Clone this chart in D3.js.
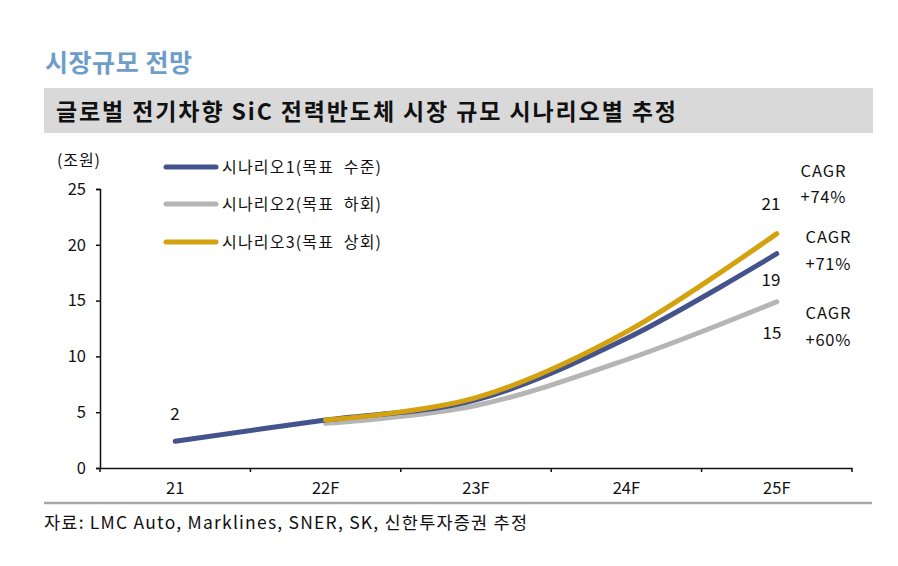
<!DOCTYPE html>
<html><head><meta charset="utf-8">
<script src="https://cdn.jsdelivr.net/npm/d3@7"></script>
<style>
html,body{margin:0;padding:0;background:#fff;}
svg text{font-family:"Noto Sans CJK KR","Noto Sans",sans-serif;}
</style></head>
<body>
<svg id="c" width="898" height="566"></svg>
<script>
const categories = ["21", "22F", "23F", "24F", "25F"];
const seriesNames = ["시나리오1(목표  수준)", "시나리오2(목표  하회)", "시나리오3(목표  상회)"];
const scenario1 = [2.4, 4.3, 6.1, 11.6, 19.2];
const scenario2 = [null, 4.0, 5.6, 9.7, 14.9];
const scenario3 = [null, 4.3, 6.3, 12.2, 21.0];
const colors = ["#44538b", "#b5b5b5", "#d4a20f"];
const yTicks = [0, 5, 10, 15, 20, 25];
const endLabels = [{cat:"21", v:2.4, text:"2"}, {cat:"25F", v:21.0, text:"21"}, {cat:"25F", v:19.2, text:"19"}, {cat:"25F", v:14.9, text:"15"}];
const cagrLabels = [["CAGR", "+74%"], ["CAGR", "+71%"], ["CAGR", "+60%"]];

const FONT = "'Noto Sans CJK KR','Noto Sans',sans-serif";
const svg = d3.select("#c");
// header
svg.append("text").attr("x", 45).attr("y", 72).attr("font-size", 25).attr("font-weight", "bold")
  .attr("fill", "#6f9dc9").attr("textLength", 147).attr("lengthAdjust", "spacing").text("시장규모 전망");
svg.append("rect").attr("x", 44).attr("y", 88).attr("width", 829).attr("height", 45).attr("fill", "#d9d9d9");
svg.append("text").attr("x", 56).attr("y", 120).attr("font-size", 23).attr("font-weight", "bold")
  .attr("fill", "#111").attr("textLength", 620).attr("lengthAdjust", "spacing")
  .text("글로벌 전기차향 SiC 전력반도체 시장 규모 시나리오별 추정");

const x = d3.scaleBand().domain(categories).range([100, 852]).padding(0);
const y = d3.scaleLinear().domain([0, 25]).range([468, 189]);
const cx = c => x(c) + x.bandwidth() / 2;

// y axis
const ya = svg.append("g").attr("transform", "translate(100,0)")
  .call(d3.axisLeft(y).tickValues(yTicks).tickSize(4).tickPadding(10));
ya.select(".domain").attr("stroke", "#111").attr("stroke-width", 1.5);
ya.selectAll(".tick line").attr("stroke", "#111").attr("stroke-width", 1.5);
ya.selectAll(".tick text").attr("font-size", 16.5).attr("fill", "#111").style("font-family", FONT);

// x axis
const xa = svg.append("g").attr("transform", "translate(0,468)")
  .call(d3.axisBottom(x).tickSize(0).tickPadding(14));
xa.select(".domain").attr("stroke", "#111").attr("stroke-width", 1.5);
xa.selectAll(".tick text").attr("font-size", 16.5).attr("fill", "#111").style("font-family", FONT);
const bounds = categories.map(c => x(c)).concat([x(categories[categories.length-1]) + x.bandwidth()]);
svg.append("g").selectAll("line").data(bounds).join("line")
  .attr("x1", d => d).attr("x2", d => d).attr("y1", 468).attr("y2", 472)
  .attr("stroke", "#111").attr("stroke-width", 1.5);

svg.append("text").attr("x", 57).attr("y", 166).attr("font-size", 16).attr("fill", "#111")
  .attr("textLength", 43).attr("lengthAdjust", "spacing").text("(조원)");

// lines
const line = d3.line()
  .defined(d => d.v != null)
  .x(d => cx(d.c)).y(d => y(d.v))
  .curve(d3.curveCatmullRom.alpha(0));
const allSeries = [scenario1, scenario2, scenario3];
const drawOrder = [1, 0, 2];
drawOrder.forEach(i => {
  const data = categories.map((c, k) => ({c, v: allSeries[i][k]})).filter(d => d.v != null);
  svg.append("path").datum(data).attr("d", line).attr("fill", "none")
    .attr("stroke", colors[i]).attr("stroke-width", 5).attr("stroke-linecap", "round");
});

// legend
const legY = [167, 204, 242];
seriesNames.forEach((n, i) => {
  svg.append("line").attr("x1", 166).attr("x2", 216).attr("y1", legY[i]).attr("y2", legY[i])
    .attr("stroke", colors[i]).attr("stroke-width", 5).attr("stroke-linecap", "round");
  svg.append("text").attr("x", 222).attr("y", legY[i] + 6).attr("font-size", 16).attr("fill", "#111")
    .attr("xml:space", "preserve").attr("textLength", 159).attr("lengthAdjust", "spacing").text(n);
});

// value labels
const lblPos = [[175, 420], [771, 210], [771, 286], [772, 339]];
endLabels.forEach((d, i) => {
  svg.append("text").attr("x", lblPos[i][0]).attr("y", lblPos[i][1]).attr("text-anchor", "middle")
    .attr("font-size", 17).attr("fill", "#111").text(d.text);
});
const cagrPos = [[823, 177, 203], [828, 243, 270], [828, 319, 346]];
cagrLabels.forEach((d, i) => {
  svg.append("text").attr("x", cagrPos[i][0]).attr("y", cagrPos[i][1]).attr("text-anchor", "middle")
    .attr("font-size", 16.5).attr("fill", "#111").attr("textLength", 45).attr("lengthAdjust", "spacing").text(d[0]);
  svg.append("text").attr("x", cagrPos[i][0]).attr("y", cagrPos[i][2]).attr("text-anchor", "middle")
    .attr("font-size", 16.5).attr("fill", "#111").attr("textLength", 45).attr("lengthAdjust", "spacing").text(d[1]);
});

// footer
svg.append("line").attr("x1", 44).attr("x2", 872).attr("y1", 503).attr("y2", 503)
  .attr("stroke", "#a6a6a6").attr("stroke-width", 2.5);
svg.append("text").attr("x", 44).attr("y", 529).attr("font-size", 17.5).attr("fill", "#111")
  .attr("textLength", 483).attr("lengthAdjust", "spacing")
  .text("자료: LMC Auto, Marklines, SNER, SK, 신한투자증권 추정");
</script>
</body></html>
